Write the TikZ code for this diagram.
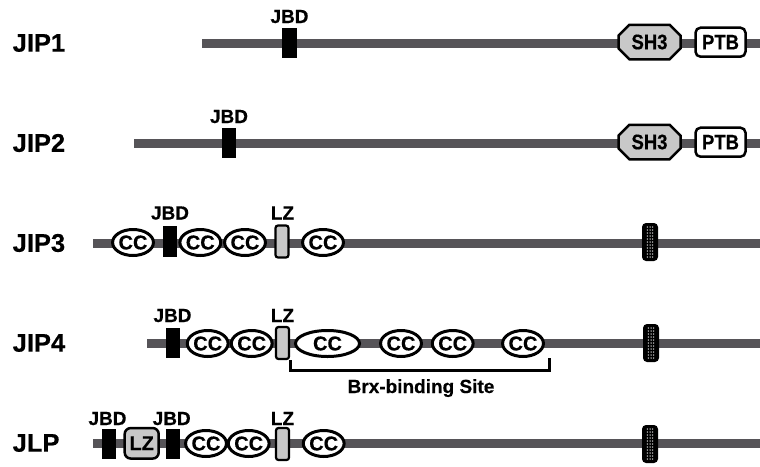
\documentclass[tikz,border=0pt]{standalone}
\usepackage{fontspec}
\setmainfont[BoldFeatures={FakeBold=0.5}]{Liberation Sans}
\newfontfamily\narrowsans[FakeStretch=0.88, BoldFeatures={FakeBold=0.5}]{Liberation Sans}
\usetikzlibrary{shapes.geometric,shapes.misc}
\definecolor{bb}{RGB}{86,84,88}
\definecolor{dom}{RGB}{200,200,200}
\newcommand{\lblf}{\fontsize{19}{23}\selectfont\bfseries}
\newcommand{\ccf}{\fontsize{20}{24}\selectfont\bfseries}
\newcommand{\shf}{\narrowsans\fontsize{21}{25}\selectfont\bfseries}
\begin{document}
\begin{tikzpicture}[x=1pt,y=-1pt,
  backbone/.style={draw=bb, line width=9pt},
  rowlbl/.style={font=\fontsize{25.5}{30}\selectfont\bfseries, anchor=west, inner sep=0pt},
  lbl/.style={font=\lblf, anchor=base, inner sep=0pt},
  jbd/.style={fill=black, minimum width=14pt, minimum height=30pt, inner sep=0pt},
  cc/.style={ellipse, draw=black, line width=3pt, fill=white, minimum width=37pt, minimum height=26pt, inner sep=0pt, font=\ccf},
  bigcc/.style={cc, minimum width=64pt},
  lzbar/.style={draw=black, line width=2.2pt, fill=dom, rounded corners=2.5pt, minimum width=13pt, minimum height=32pt, inner sep=0pt},
  lzbox/.style={draw=black, line width=2.5pt, fill=dom, rounded corners=6pt, minimum width=34pt, minimum height=30.5pt, inner sep=0pt, font=\ccf},
  hatch/.style={fill=black, rounded corners=4pt, minimum width=16pt, minimum height=38pt, inner sep=0pt},
  shbox/.style={chamfered rectangle, chamfered rectangle xsep=9pt, draw=black, line width=2.5pt, fill=dom, minimum width=62pt, minimum height=34.5pt, inner sep=0pt, font=\shf},
  ptbbox/.style={draw=black, line width=2.5pt, fill=white, rounded corners=5pt, minimum width=50pt, minimum height=29pt, inner sep=0pt, font=\shf},
  bracket/.style={draw=black, line width=3pt},
  dots/.pic={\foreach \dx in {-2.6,0,2.6}{\foreach \dy in {-15,-12,...,15}{\fill[white!85!black] (\dx,\dy) circle[radius=0.75pt];}}}
]
\useasboundingbox (0,0) rectangle (760,466);
% ---------- JIP1
\node[rowlbl] (n1) at (12.5,43) {JIP1};
\coordinate (s1) at (202,43); \coordinate (e1) at (760,43);
\draw[backbone] (s1) -- (e1);
\node[jbd, minimum width=15pt] (j1) at (289.5,43) {};
\node[lbl] (lj1) at (289.5,23) {JBD};
\node[shbox] (sh1) at (649.5,42) {SH3};
\node[ptbbox] (pt1) at (720.5,42.2) {PTB};
% ---------- JIP2
\node[rowlbl] (n2) at (12.5,143) {JIP2};
\coordinate (s2) at (134,143); \coordinate (e2) at (760,143);
\draw[backbone] (s2) -- (e2);
\node[jbd] (j2) at (229,142.5) {};
\node[lbl] (lj2) at (229,123) {JBD};
\node[shbox] (sh2) at (649.5,142) {SH3};
\node[ptbbox] (pt2) at (720.5,142.2) {PTB};
% ---------- JIP3
\node[rowlbl] (n3) at (12.5,243) {JIP3};
\coordinate (s3) at (93,243); \coordinate (e3) at (760,243);
\draw[backbone] (s3) -- (e3);
\node[cc] (c31) at (133,242.5) {CC};
\node[jbd, minimum height=31pt] (j3) at (170,241.5) {};
\node[cc] (c32) at (200.3,242.5) {CC};
\node[cc] (c33) at (245,242.5) {CC};
\node[lzbar] (z3) at (282,241.5) {};
\node[cc] (c34) at (323,242.5) {CC};
\node[hatch] (h3) at (650,242) {};
\pic at (h3.center) {dots};
\node[lbl] (lj3) at (170,219.5) {JBD};
\node[lbl] (lz3) at (282.5,219.5) {LZ};
% ---------- JIP4
\node[rowlbl] (n4) at (12.5,343) {JIP4};
\coordinate (s4) at (147,343); \coordinate (e4) at (760,343);
\draw[backbone] (s4) -- (e4);
\node[jbd] (j4) at (173,343) {};
\node[cc] (c41) at (207.7,343.5) {CC};
\node[cc] (c42) at (251.7,343.5) {CC};
\node[lzbar] (z4) at (282.5,343) {};
\node[bigcc] (c43) at (327.5,343.5) {CC};
\node[cc] (c44) at (401,343.5) {CC};
\node[cc] (c45) at (452.7,343.5) {CC};
\node[cc] (c46) at (523,343.5) {CC};
\node[hatch] (h4) at (651,343) {};
\pic at (h4.center) {dots};
\node[lbl] (lj4) at (172.5,322) {JBD};
\node[lbl] (lz4) at (282.5,322) {LZ};
\coordinate (brR) at (549,370);
\draw[bracket] (z4.south east) |- (brR) -- (brR |- c46.south);
\node[lbl] (brx) at (421,393) {Brx-binding Site};
% ---------- JLP
\node[rowlbl] (n5) at (12.5,443) {JLP};
\coordinate (s5) at (93,443); \coordinate (e5) at (760,443);
\draw[backbone] (s5) -- (e5);
\node[jbd] (j51) at (109.3,443.5) {};
\node[lzbox] (zb5) at (141.7,443.3) {LZ};
\node[jbd] (j52) at (173,443.5) {};
\node[cc] (c51) at (206,443.5) {CC};
\node[cc] (c52) at (248.7,443.5) {CC};
\node[lzbar] (z5) at (282.5,444) {};
\node[cc] (c53) at (323.7,443.5) {CC};
\node[hatch] (h5) at (650,444) {};
\pic at (h5.center) {dots};
\node[lbl] (lj51) at (107.5,425) {JBD};
\node[lbl] (lj52) at (171.7,425) {JBD};
\node[lbl] (lz5) at (282.5,425) {LZ};
\end{tikzpicture}
\end{document}
